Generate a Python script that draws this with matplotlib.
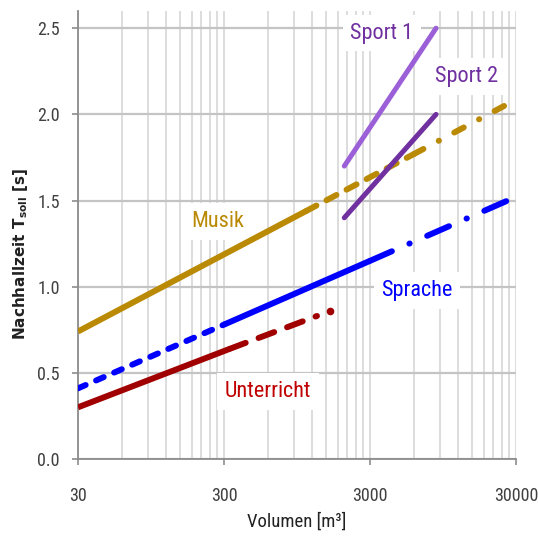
import matplotlib
matplotlib.use("Agg")
import matplotlib.pyplot as plt
from matplotlib import font_manager as fm
from matplotlib.ticker import FixedLocator, NullFormatter, FixedFormatter

plt.rcParams['mathtext.fontset'] = 'custom'
plt.rcParams['mathtext.rm'] = 'DejaVu Sans:bold'
plt.rcParams['mathtext.it'] = 'DejaVu Sans:bold'


def _has(family):
    try:
        fm.findfont(fm.FontProperties(family=family), fallback_to_default=False)
        return True
    except Exception:
        return False


NARROW_FAMILY = None
for cand in ['Liberation Sans Narrow', 'Arial Narrow', 'Roboto Condensed', 'Open Sans Condensed']:
    if _has(cand):
        NARROW_FAMILY = cand
        break
if NARROW_FAMILY:
    FONT = [NARROW_FAMILY, 'DejaVu Sans']
    TICK_FS, LAB_FS, XLAB_FS = 13, 16, 13.5
else:
    FONT = ['Lato', 'DejaVu Sans']
    TICK_FS, LAB_FS, XLAB_FS = 11, 15, 12.5

# ---------------- data ----------------
x_ticks = [30, 300, 3000, 30000]
x_ticklabels = ['30', '300', '3000', '30000']
y_ticks = [0.0, 0.5, 1.0, 1.5, 2.0, 2.5]
y_ticklabels = ['0.0', '0.5', '1.0', '1.5', '2.0', '2.5']

# Musik
musik_solid_x = [30, 1100]
musik_solid_y = [0.74, 1.44]
musik_dash_x = [1100, 6000]
musik_dash_y = [1.44, 1.77]
musik_dashdot_x = [6000, 25000]
musik_dashdot_y = [1.77, 2.05]

# Sprache
sprache_dash_x = [30, 300]
sprache_dash_y = [0.41, 0.78]
sprache_solid_x = [300, 3000]
sprache_solid_y = [0.78, 1.15]
sprache_dashdot_x = [3000, 28000]
sprache_dashdot_y = [1.15, 1.51]

# Unterricht
unterricht_solid_x = [30, 330]
unterricht_solid_y = [0.30, 0.64]
unterricht_dash_x = [330, 1300]
unterricht_dash_y = [0.64, 0.83]
unterricht_dot_x = [1600]
unterricht_dot_y = [0.86]

# Sport
sport1_x = [2000, 8500]
sport1_y = [1.70, 2.50]
sport2_x = [2000, 8500]
sport2_y = [1.40, 2.00]

# ---------------- figure ----------------
fig = plt.figure(figsize=(5.38, 5.39), dpi=100)
ax = fig.add_axes([78/538, 1-459/539, (516-78)/538, (459-11)/539])
ax.set_xscale('log')
ax.set_xlim(30, 30000)
ax.set_ylim(0, 2.6)

# grid
minor = []
for dec in [30, 300, 3000]:
    for k in range(2, 10):
        minor.append(dec * k)
ax.xaxis.set_major_locator(FixedLocator(x_ticks))
ax.xaxis.set_major_formatter(FixedFormatter(x_ticklabels))
ax.xaxis.set_minor_locator(FixedLocator(minor))
ax.xaxis.set_minor_formatter(NullFormatter())
ax.yaxis.set_major_locator(FixedLocator(y_ticks))
ax.yaxis.set_major_formatter(FixedFormatter(y_ticklabels))

ax.set_axisbelow(True)
ax.grid(True, axis='x', which='both', color='#dadada', lw=1.3)
ax.grid(True, axis='y', which='major', color='#c4c4c4', lw=1.6)

for s in ['top', 'right']:
    ax.spines[s].set_visible(False)
for s in ['left', 'bottom']:
    ax.spines[s].set_color('#8c8c8c')
    ax.spines[s].set_linewidth(1.3)

ax.tick_params(axis='both', which='major', direction='out', length=4, width=1.2,
               color='#8c8c8c', labelcolor='#404040', labelsize=TICK_FS)
ax.tick_params(axis='x', which='major', pad=16)
ax.tick_params(axis='y', which='major', pad=9)
ax.tick_params(axis='x', which='minor', length=0)
for lab in ax.get_xticklabels() + ax.get_yticklabels():
    lab.set_family(FONT)

# colors
c_musik = '#BA8A05'
c_sprache = '#0000FF'
c_unterricht = '#A00000'
c_sport1 = '#9B5FD8'
c_sport2 = '#7030A0'

LW = 4.3
kw = dict(lw=LW, zorder=4, solid_capstyle='butt', dash_capstyle='round')

# Musik
ax.plot(musik_solid_x, musik_solid_y, color=c_musik, ls='-', **kw)
ax.plot(musik_dash_x, musik_dash_y, color=c_musik, ls=(0, (1.9, 1.9)), **kw)
ax.plot(musik_dashdot_x, musik_dashdot_y, color=c_musik, ls=(0, (1.8, 2.9, 0.05, 2.9)), **kw)

# Sprache
ax.plot(sprache_dash_x, sprache_dash_y, color=c_sprache, ls=(0, (1.4, 1.9)), **kw)
ax.plot(sprache_solid_x, sprache_solid_y, color=c_sprache, ls='-', **kw)
ax.plot(sprache_dashdot_x, sprache_dashdot_y, color=c_sprache, ls=(0, (4.0, 3.2, 0.05, 3.2)), **kw)

# Unterricht
ax.plot(unterricht_solid_x, unterricht_solid_y, color=c_unterricht, ls='-', **kw)
ax.plot(unterricht_dash_x, unterricht_dash_y, color=c_unterricht, ls=(0, (2.8, 2.3)), **kw)
ax.plot(unterricht_dot_x, unterricht_dot_y, color=c_unterricht, ls='none', marker='o',
        markersize=5.5, markeredgewidth=0, zorder=4)

# Sport
ax.plot(sport1_x, sport1_y, color=c_sport1, lw=3.6, solid_capstyle='round', zorder=4)
ax.plot(sport2_x, sport2_y, color=c_sport2, lw=3.6, solid_capstyle='round', zorder=4)

# labels with white boxes
box = dict(boxstyle='square,pad=0.35', facecolor='white', edgecolor='none')
lab_kw = dict(ha='center', va='baseline', fontsize=LAB_FS, family=FONT, bbox=box, zorder=3)
ax.text(3624, 2.44, 'Sport 1', color=c_sport2, **lab_kw)
ax.text(13850, 2.187, 'Sport 2', color=c_sport2, **lab_kw)
ax.text(273, 1.346, 'Musik', color=c_musik, **lab_kw)
ax.text(6297, 0.945, 'Sprache', color=c_sprache, **lab_kw)
ax.text(600, 0.36, 'Unterricht', color='#C00000', **lab_kw)

# axis labels
ax.set_xlabel('Volumen [m³]', fontsize=XLAB_FS, family=FONT, color='#222222')
ax.xaxis.set_label_coords(0.5, -0.12)
ax.xaxis.label.set_va('top')

ax.set_ylabel(r'Nachhallzeit T$_{\mathrm{soll}}$ [s]', fontsize=11, fontweight='bold',
              family='DejaVu Sans', color='#222222')
ax.yaxis.set_label_coords((21 - 78) / 438, (459 - 253.5) / 448)
ax.yaxis.label.set_va('center')

fig.savefig('out.png', dpi=100)
